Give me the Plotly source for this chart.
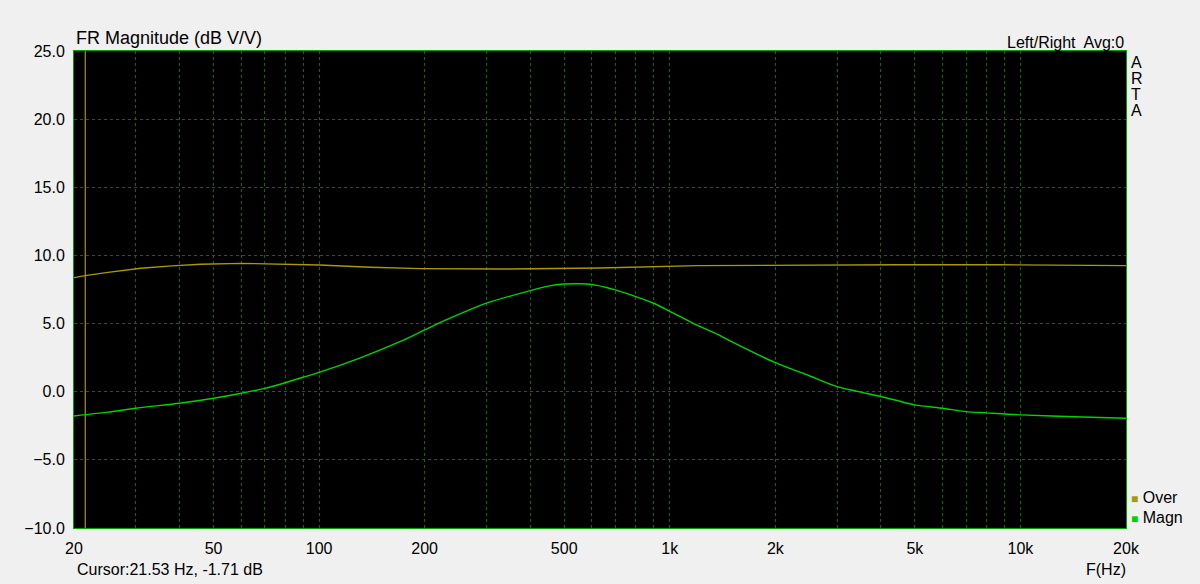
import math
import plotly.graph_objects as go

# --- data ---
magn_freq = [20, 25, 30, 40, 50, 60, 70, 80, 90, 100, 130, 170, 200, 237, 300, 400,
             450, 500, 550, 580, 620, 660, 700, 800, 900, 1000, 1170, 1370, 1500, 2000,
             2500, 3000, 4000, 5000, 6000, 7000, 8000, 10000, 15000, 20000]
magn_db = [-1.78, -1.5, -1.21, -0.85, -0.48, -0.11, 0.25, 0.66, 1.06, 1.42, 2.45, 3.67,
           4.53, 5.41, 6.5, 7.42, 7.75, 7.9, 7.92, 7.9, 7.8, 7.65, 7.47, 6.98, 6.49,
           5.9, 5.0, 4.2, 3.67, 2.13, 1.17, 0.37, -0.35, -0.97, -1.21, -1.46, -1.55,
           -1.7, -1.85, -1.95]

over_freq = [20, 21.5, 25, 31, 38, 46, 60, 72, 100, 140, 195, 330, 630, 1200, 2350,
             4500, 8700, 20000]
over_db = [8.37, 8.52, 8.76, 9.06, 9.23, 9.35, 9.42, 9.37, 9.3, 9.13, 9.03, 9.0, 9.08,
           9.25, 9.3, 9.32, 9.32, 9.25]

cursor_freq = 21.53
cursor_db = -1.71

x_grid = [20, 30, 40, 50, 60, 70, 80, 90, 100, 200, 300, 400, 500, 600, 700, 800, 900,
          1000, 2000, 3000, 4000, 5000, 6000, 7000, 8000, 9000, 10000, 20000]
x_labels = {20: "20", 50: "50", 100: "100", 200: "200", 500: "500", 1000: "1k",
            2000: "2k", 5000: "5k", 10000: "10k", 20000: "20k"}
y_min, y_max = -10, 25

OVER_C = "#a89a00"
MAGN_C = "#00d400"
GRID_C = "#007000"
FONT = "Liberation Sans, Arial, sans-serif"

fig = go.Figure()
fig.add_trace(go.Scatter(x=[cursor_freq, cursor_freq], y=[y_min, y_max], mode="lines",
                         line=dict(color="#c8b400", width=1), hoverinfo="skip"))
fig.add_trace(go.Scatter(x=over_freq, y=over_db, mode="lines", name="Over",
                         line=dict(color=OVER_C, width=1.4)))
fig.add_trace(go.Scatter(x=magn_freq, y=magn_db, mode="lines", name="Magn",
                         line=dict(color=MAGN_C, width=1.4, shape="spline",
                                   smoothing=0.6)))

fig.update_layout(
    width=1200, height=584,
    margin=dict(l=74, r=74, t=51, b=56),
    paper_bgcolor="#f0f0f0", plot_bgcolor="#000000",
    showlegend=False,
    font=dict(family=FONT, size=16, color="#000000"),
    xaxis=dict(type="log", range=[math.log10(20), math.log10(20000)],
               tickvals=x_grid, ticktext=[x_labels.get(v, "") for v in x_grid],
               showgrid=True, gridcolor=GRID_C, griddash="dot", gridwidth=1,
               showline=True, linecolor="#00a000", linewidth=1, mirror=True,
               zeroline=False, ticks="", tickfont=dict(size=16), ticklabelstandoff=6),
    yaxis=dict(range=[y_min, y_max], dtick=5, tickformat=".1f",
               showgrid=True, gridcolor=GRID_C, griddash="dot", gridwidth=1,
               showline=True, linecolor="#00a000", linewidth=1, mirror=True,
               zeroline=False, ticks="", tickfont=dict(size=16), ticklabelstandoff=5),
)

def txt(text, x, y, xa, ya, xs=0, ys=0, size=16):
    return dict(text=text, x=x, y=y, xref="paper", yref="paper", xanchor=xa,
                yanchor=ya, xshift=xs, yshift=ys, showarrow=False,
                font=dict(size=size))

ann = [
    txt("FR Magnitude (dB V/V)", 0, 1, "left", "bottom", 0, 1, 18),
    txt("Left/Right  Avg:0", 1, 1, "right", "bottom", 0, -2, 16),
]
for i, ch in enumerate("ARTA"):
    ann.append(txt(ch, 1, 1, "left", "top", 3, -1 - 16 * i, 16))
sq = "<span style='font-size:12px;color:{}'>■</span> {}"
ann += [
    txt(sq.format(OVER_C, "Over"), 1, 0, "left", "middle", 3, 31, 16),
    txt(sq.format(MAGN_C, "Magn"), 1, 0, "left", "middle", 3, 11, 16),
    txt("F(Hz)", 1, 0, "center", "middle", -20, -41, 16),
    txt(f"Cursor:{cursor_freq} Hz, {cursor_db} dB", 0, 0, "left", "middle", 1, -41, 16),
]
fig.update_layout(annotations=ann)

fig.write_html("out.html", config={"displayModeBar": False},
               post_script="document.body.style.margin='0';"
                           "document.body.style.background='#f0f0f0';")
